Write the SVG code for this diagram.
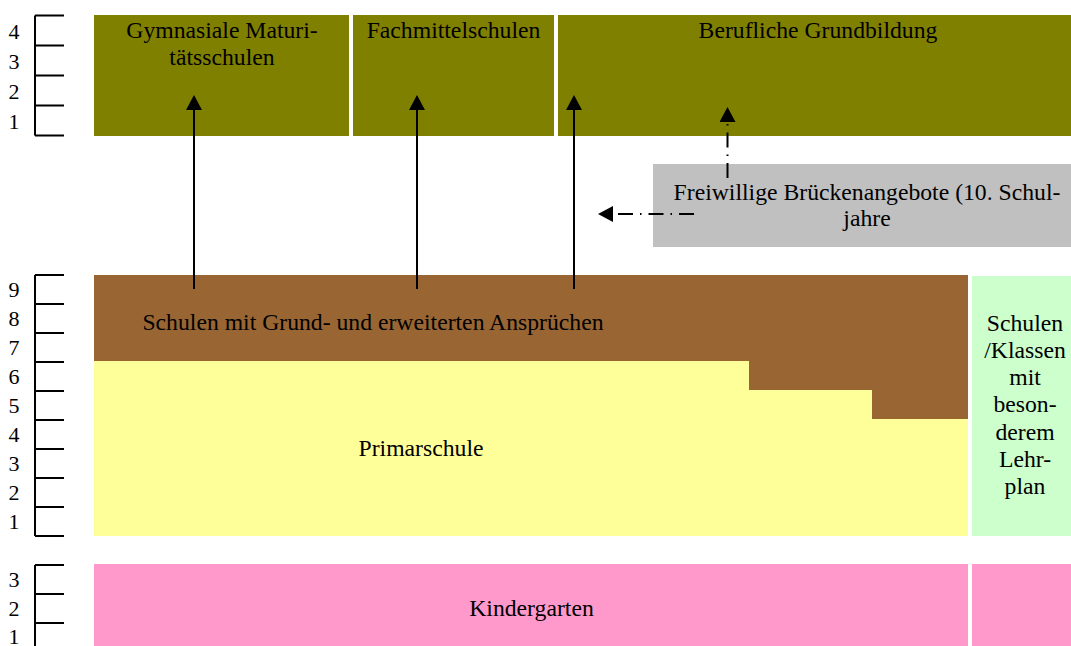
<svg xmlns="http://www.w3.org/2000/svg" width="1071" height="646" viewBox="0 0 1071 646">
<style>
text{font-family:"Liberation Serif","Times New Roman",serif;fill:#000;}
.lbl{font-size:23.7px;text-anchor:middle;}
.num{font-size:22px;text-anchor:middle;}
.rule{stroke:#000;stroke-width:2;fill:none;}
.arr{stroke:#000;stroke-width:2;fill:none;}
.dd{stroke:#000;stroke-width:2;fill:none;stroke-dasharray:15 7 1.5 7;}
.olive{fill:#808000;}
.brown{fill:#996633;}
.yellow{fill:#FFFF99;}
.green{fill:#CCFFCC;}
.grey{fill:#C0C0C0;}
.pink{fill:#FF99CC;}
</style>
<defs>
<marker id="ah" viewBox="0 0 15 16" refX="0" refY="8" markerWidth="15" markerHeight="16" markerUnits="userSpaceOnUse" orient="auto">
<path d="M0,0 L15,8 L0,16 z" fill="#000"/>
</marker>
</defs>
<rect width="1071" height="646" fill="#fff"/>

<g id="ruler-top">
<path class="rule" d="M35,15.5 V135.5 M35,15.5 H64 M35,45.5 H64 M35,75.5 H64 M35,105.5 H64 M35,135.5 H64"/>
<text class="num" x="14" y="39">4</text>
<text class="num" x="14" y="69">3</text>
<text class="num" x="14" y="99">2</text>
<text class="num" x="14" y="129">1</text>
</g>

<g id="ruler-middle">
<path class="rule" d="M35,275 V536 M35,275 H64 M35,304 H64 M35,333 H64 M35,362 H64 M35,391 H64 M35,420 H64 M35,449 H64 M35,478 H64 M35,507 H64 M35,536 H64"/>
<text class="num" x="14" y="297">9</text>
<text class="num" x="14" y="326">8</text>
<text class="num" x="14" y="355">7</text>
<text class="num" x="14" y="384">6</text>
<text class="num" x="14" y="413">5</text>
<text class="num" x="14" y="442">4</text>
<text class="num" x="14" y="471">3</text>
<text class="num" x="14" y="500">2</text>
<text class="num" x="14" y="529">1</text>
</g>

<g id="ruler-bottom">
<path class="rule" d="M35,565 V646 M35,565 H64 M35,594 H64 M35,623 H64"/>
<text class="num" x="14" y="587">3</text>
<text class="num" x="14" y="616">2</text>
<text class="num" x="14" y="644">1</text>
</g>

<g id="gymnasiale">
<rect class="olive" x="94" y="15" width="255" height="121"/>
<text class="lbl" x="222" y="38">Gymnasiale Maturi-</text>
<text class="lbl" x="222" y="65">tätsschulen</text>
</g>

<g id="fachmittelschulen">
<rect class="olive" x="353" y="15" width="201" height="121"/>
<text class="lbl" x="453.5" y="38">Fachmittelschulen</text>
</g>

<g id="berufliche">
<rect class="olive" x="558" y="15" width="513" height="121"/>
<text class="lbl" x="818" y="38">Berufliche Grundbildung</text>
</g>

<g id="brueckenangebote">
<rect class="grey" x="653" y="164" width="418" height="83"/>
<text class="lbl" x="867" y="200">Freiwillige Brückenangebote (10. Schul-</text>
<text class="lbl" x="867" y="226">jahre</text>
</g>

<g id="sekundar">
<polygon class="brown" points="94,275 968,275 968,419 872,419 872,390 749,390 749,361 94,361"/>
<text class="lbl" x="373" y="330">Schulen mit Grund- und erweiterten Ansprüchen</text>
</g>

<g id="primarschule">
<polygon class="yellow" points="94,361 749,361 749,390 872,390 872,419 968,419 968,536 94,536"/>
<text class="lbl" x="421" y="456">Primarschule</text>
</g>

<g id="besonderer-lehrplan">
<rect class="green" x="972" y="276" width="99" height="260"/>
<text class="lbl" x="1025" y="331">Schulen</text>
<text class="lbl" x="1025" y="358">/Klassen</text>
<text class="lbl" x="1025" y="385">mit</text>
<text class="lbl" x="1025" y="412">beson-</text>
<text class="lbl" x="1025" y="440">derem</text>
<text class="lbl" x="1025" y="467">Lehr-</text>
<text class="lbl" x="1025" y="494">plan</text>
</g>

<g id="kindergarten">
<rect class="pink" x="94" y="564" width="874" height="82"/>
<text class="lbl" x="531.5" y="616">Kindergarten</text>
</g>

<g id="kindergarten-besonders">
<rect class="pink" x="972" y="564" width="99" height="82"/>
</g>

<g id="connectors">
<line class="arr" x1="194" y1="289" x2="194" y2="110" marker-end="url(#ah)"/>
<line class="arr" x1="417" y1="289" x2="417" y2="110" marker-end="url(#ah)"/>
<line class="arr" x1="574" y1="289" x2="574" y2="110" marker-end="url(#ah)"/>
<line class="dd" x1="727.5" y1="178" x2="727.5" y2="122" marker-end="url(#ah)"/>
<line class="dd" x1="694" y1="214" x2="613" y2="214" marker-end="url(#ah)"/>
</g>
</svg>
